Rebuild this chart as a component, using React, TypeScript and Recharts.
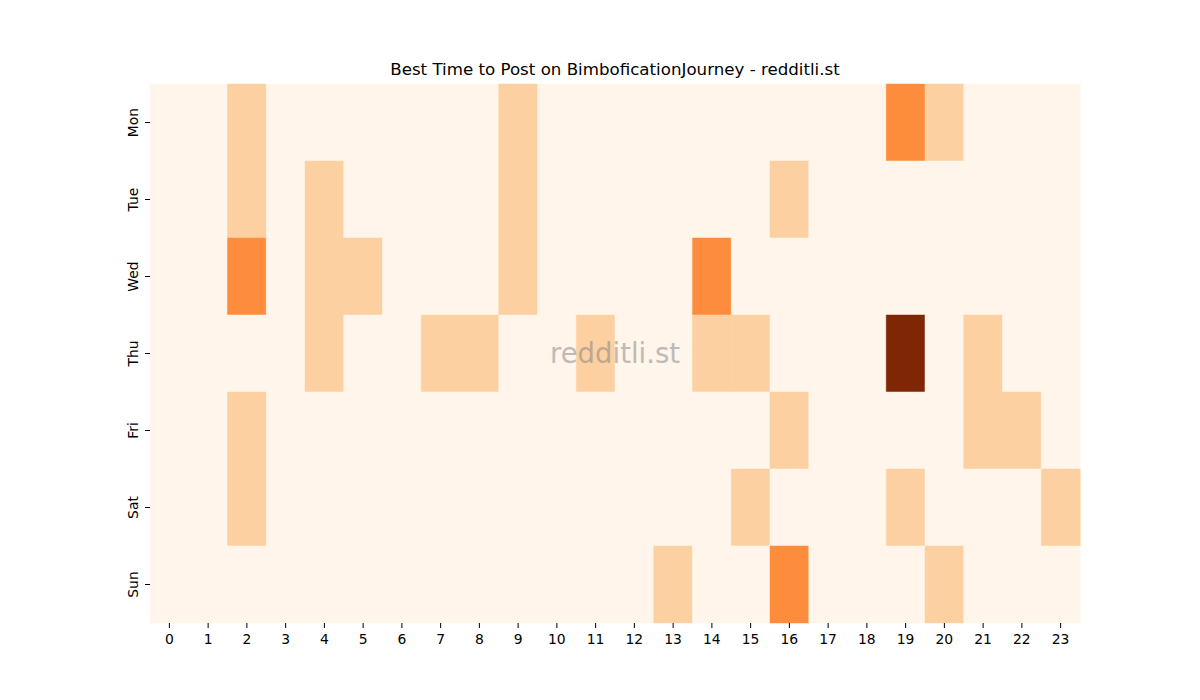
import { BarChart, Bar, XAxis, YAxis, Cell } from 'recharts'

const hours = Array.from({ length: 24 }, (_, i) => i)
const days = ['Mon', 'Tue', 'Wed', 'Thu', 'Fri', 'Sat', 'Sun']

// posts per hour, one list per weekday
const mon = [0, 0, 1, 0, 0, 0, 0, 0, 0, 1, 0, 0, 0, 0, 0, 0, 0, 0, 0, 2, 1, 0, 0, 0]
const tue = [0, 0, 1, 0, 1, 0, 0, 0, 0, 1, 0, 0, 0, 0, 0, 0, 1, 0, 0, 0, 0, 0, 0, 0]
const wed = [0, 0, 2, 0, 1, 1, 0, 0, 0, 1, 0, 0, 0, 0, 2, 0, 0, 0, 0, 0, 0, 0, 0, 0]
const thu = [0, 0, 0, 0, 1, 0, 0, 1, 1, 0, 0, 1, 0, 0, 1, 1, 0, 0, 0, 4, 0, 1, 0, 0]
const fri = [0, 0, 1, 0, 0, 0, 0, 0, 0, 0, 0, 0, 0, 0, 0, 0, 1, 0, 0, 0, 0, 1, 1, 0]
const sat = [0, 0, 1, 0, 0, 0, 0, 0, 0, 0, 0, 0, 0, 0, 0, 1, 0, 0, 0, 1, 0, 0, 0, 1]
const sun = [0, 0, 0, 0, 0, 0, 0, 0, 0, 0, 0, 0, 0, 1, 0, 0, 2, 0, 0, 0, 1, 0, 0, 0]

const rows = [mon, tue, wed, thu, fri, sat, sun]

// Oranges colormap sampled for values 0..4
const palette = ['#fff5eb', '#fdd0a2', '#fd8d3c', '#d94801', '#7f2704']

const chartData = hours.map((h) => {
  const row: Record<string, number> = { hour: h }
  days.forEach((d) => { row[d] = 1 })
  return row
})

const font = 'DejaVu Sans, sans-serif'
const tickFont = 13.9

const XTick = (props: any) => {
  const { x, y, payload } = props
  return (
    <text x={x} y={y} dy="0.71em" textAnchor="middle" fontSize={tickFont} fontFamily={font} fill="#000">
      {payload.value}
    </text>
  )
}

const YTick = (props: any) => {
  const { x, y, payload } = props
  const cx = x - 12
  return (
    <text
      x={cx}
      y={y}
      transform={`rotate(-90, ${cx}, ${y})`}
      textAnchor="middle"
      dominantBaseline="central"
      fontSize={tickFont}
      fontFamily={font}
      fill="#000"
    >
      {days[Math.floor(payload.value)]}
    </text>
  )
}

export default function App() {
  return (
    <div style={{ position: 'absolute', left: 0, top: 0, width: 1200, height: 700, background: '#fff', fontFamily: font }}>
      <div style={{ position: 'absolute', left: 0, top: 59, width: 1230, textAlign: 'center', fontSize: 16.67, lineHeight: '22px', color: '#000' }}>
        Best Time to Post on BimboficationJourney - redditli.st
      </div>
      <BarChart
        width={1200}
        height={700}
        data={chartData}
        margin={{ top: 84, right: 120, bottom: 47, left: 110 }}
        barCategoryGap={0}
        barGap={0}
      >
        <XAxis
          dataKey="hour"
          type="category"
          axisLine={false}
          tickLine={{ stroke: '#000' }}
          tickSize={5}
          tickMargin={6}
          height={30}
          interval={0}
          tick={<XTick />}
        />
        <YAxis
          type="number"
          domain={[0, 7]}
          reversed
          ticks={[0.5, 1.5, 2.5, 3.5, 4.5, 5.5, 6.5]}
          axisLine={false}
          tickLine={{ stroke: '#000' }}
          tickSize={5}
          tickMargin={0}
          width={40}
          interval={0}
          tick={<YTick />}
        />
        {days.map((d, r) => (
          <Bar key={d} dataKey={d} stackId="a" isAnimationActive={false}>
            {rows[r].map((v, i) => (
              <Cell key={i} fill={palette[v]} stroke={palette[v]} strokeWidth={0.5} />
            ))}
          </Bar>
        ))}
      </BarChart>
      <div style={{ position: 'absolute', left: 0, top: 336, width: 1230, textAlign: 'center', fontSize: 27.5, lineHeight: '34px', color: '#808080', opacity: 0.5, pointerEvents: 'none' }}>
        redditli.st
      </div>
    </div>
  )
}
